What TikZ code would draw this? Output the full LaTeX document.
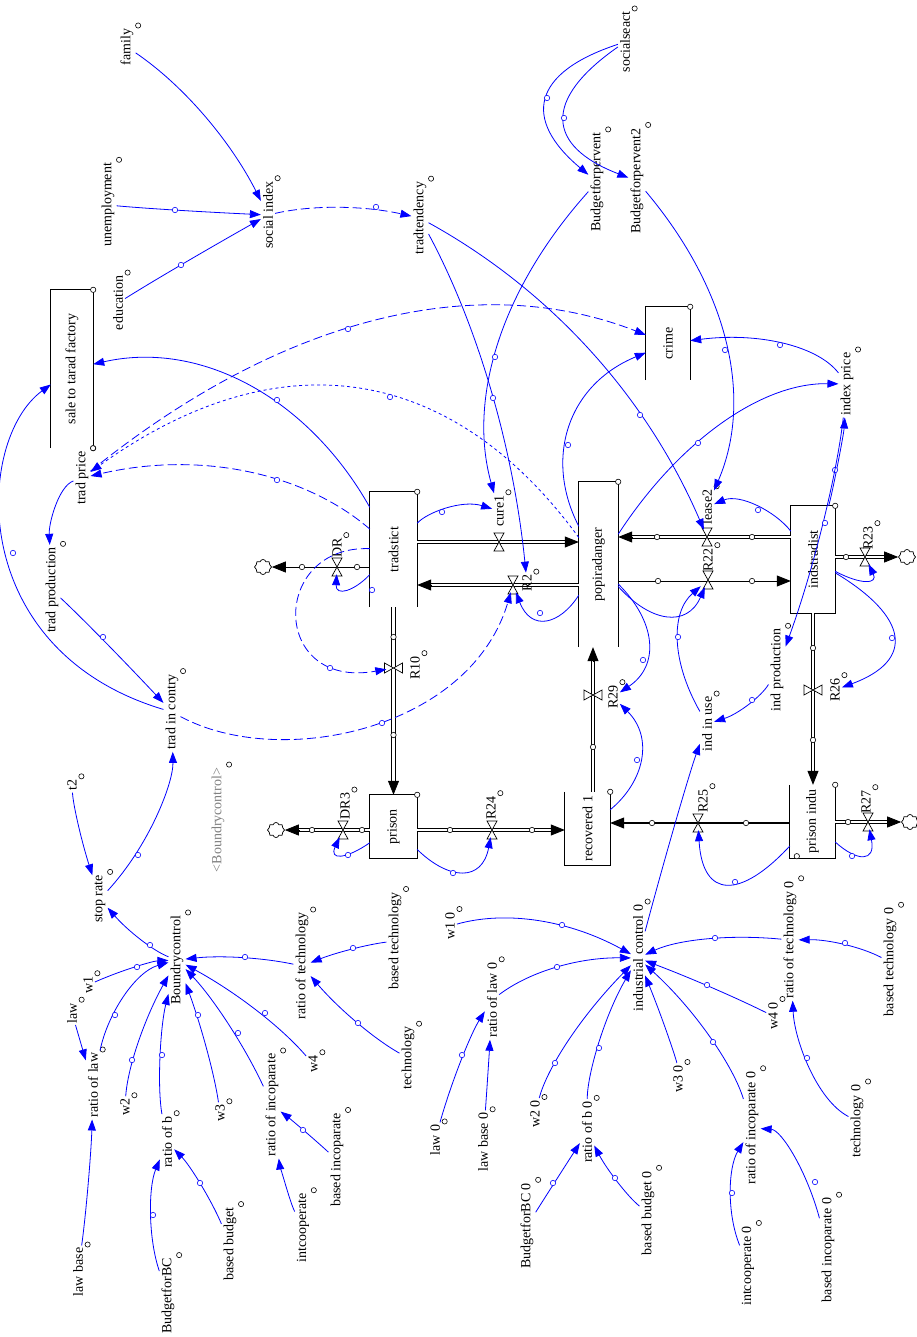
\documentclass[tikz,border=0pt]{standalone}
\usepackage{fontspec}
\setmainfont{Liberation Serif}
\usetikzlibrary{arrows.meta,calc,shapes.symbols}
\newcommand\fsz{\fontsize{14}{16}\selectfont}
\tikzset{
 var/.style={rotate=90, inner sep=2pt, font=\fsz, text=black},
 stockbox/.style={inner sep=0pt, font=\fsz},
 conn/.style={draw=blue, line width=0.8pt, -{Triangle[length=11pt,width=8pt]}},
 longdash/.style={dash pattern=on 9pt off 4pt},
 cb/.style={draw=blue, fill=white, line width=0.6pt},
 lc/.style={draw=black, fill=white, line width=0.6pt},
 pipe/.style={draw=black, double=white, double distance=2.6pt, line width=0.8pt},
 ptip/.style={draw=black, line width=0.8pt, -{Triangle[length=14pt,width=11pt]}},
 stk/.style={draw=black, line width=1pt},
 vnode/.style={inner sep=0pt, minimum size=14pt},
 valvest/.style={draw=black, fill=white, line width=0.7pt},
 cloudst/.style={cloud, cloud puffs=8, draw=black, line width=0.7pt, minimum width=17pt, minimum height=15pt, inner sep=0pt, aspect=1},
}
\newcommand\Vr[4][]{\node[var,#1] (#2) at (#3) {#4}; \draw[lc] (#2.south east) ++(2.5,-1) circle[radius=2.6pt];}
\newcommand\Cn[4][]{\draw[conn,#1] (#2) .. controls ($1.3333*(#3)-0.3333*(#4)$) and ($1.3333*(#3)-0.3333*(#2)$) .. (#4);}
\newcommand\Cnc[5][]{\draw[conn,#1] (#2) .. controls (#3) and (#4) .. (#5);}
\newcommand\Cc[1]{\draw[cb] (#1) circle[radius=2.7pt];}
\newcommand\Pc[1]{\draw[lc] (#1) circle[radius=2.7pt];}
\newcommand\Fl[2]{\draw[pipe] (#1) -- ($(#2)!13pt!(#1)$); \draw[ptip] ($(#2)!14pt!(#1)$) -- (#2);}
\newcommand\VHd[1]{\draw[valvest] ($(#1)+(-5,-9)$) -- ++(10,0) -- ++(-10,18) -- ++(10,0) -- cycle;}
\newcommand\VVd[1]{\draw[valvest] ($(#1)+(-9,-5)$) -- ++(0,10) -- ++(18,-10) -- ++(0,10) -- cycle;}
\begin{document}
\begin{tikzpicture}[x=1pt,y=-1pt]
\useasboundingbox (0,0) rectangle (917,1337);
\fill[white] (0,0) rectangle (917,1337);
% ---------- stocks ----------
\node[stockbox, minimum width=42pt, minimum height=158pt] (sale) at (72,369) {\rotatebox{90}{sale to tarad factory}};
\node[stockbox, minimum width=44pt, minimum height=73pt] (crime) at (668,343.5) {\rotatebox{90}{crime}};
\node[stockbox, minimum width=47pt, minimum height=115pt] (tradstict) at (393.5,549.5) {\rotatebox{90}{tradstict}};
\node[stockbox, minimum width=39pt, minimum height=165pt] (popiradanger) at (598.5,564.5) {\rotatebox{90}{popiradanger}};
\node[stockbox, minimum width=44pt, minimum height=107pt] (indstradist) at (813,559.5) {\rotatebox{90}{indstradist}};
\node[stockbox, minimum width=47pt, minimum height=63pt] (prison) at (393.5,826.5) {\rotatebox{90}{prison}};
\node[stockbox, minimum width=45pt, minimum height=73pt] (recovered) at (587.5,828.5) {\rotatebox{90}{recovered 1}};
\node[stockbox, minimum width=45pt, minimum height=73pt] (prisonindu) at (812.5,821.5) {\rotatebox{90}{prison indu}};
\foreach \s in {sale,crime,tradstict,popiradanger}{\draw[stk] (\s.south west) -- (\s.north west) -- (\s.north east) -- (\s.south east);}
\foreach \s in {indstradist,prison}{\draw[stk] (\s.south west) rectangle (\s.north east);}
\foreach \s in {recovered,prisonindu}{\draw[stk] (\s.north west) -- (\s.south west) -- (\s.south east) -- (\s.north east);}
\foreach \s in {sale,crime,tradstict,popiradanger,indstradist,prison,recovered,prisonindu}{\draw[lc] (\s.north east) circle[radius=2.7pt];}
\draw[lc] (sale.south east) circle[radius=2.7pt];
\draw[lc] ($(prisonindu.south west)+(7,-2)$) circle[radius=2.7pt];
% ---------- clouds ----------
\node[cloudst] (cl1) at (263,567) {};
\node[cloudst] (cl2) at (276,830) {};
\node[cloudst] (cl3) at (907,557) {};
\node[cloudst] (cl4) at (910,822) {};
% ---------- flows ----------
\coordinate (f1a) at (tradstict.east |- 0,542); \coordinate (f1b) at (popiradanger.west |- 0,542);
\coordinate (f2a) at (popiradanger.west |- 0,585); \coordinate (f2b) at (tradstict.east |- 0,585);
\coordinate (f3a) at (tradstict.west |- 0,567);
\coordinate (f5a) at (prison.west |- 0,830);
\coordinate (f6a) at (prison.east |- 0,830); \coordinate (f6b) at (recovered.west |- 0,830);
\coordinate (f7a) at (recovered.north -| 593,0); \coordinate (f7b) at (popiradanger.south -| 593,0);
\coordinate (f8a) at (popiradanger.east |- 0,581); \coordinate (f8b) at (indstradist.west |- 0,581);
\coordinate (f9a) at (indstradist.west |- 0,537); \coordinate (f9b) at (popiradanger.east |- 0,537);
\coordinate (f10a) at (indstradist.east |- 0,557);
\coordinate (f11a) at (indstradist.south); \coordinate (f11b) at (prisonindu.north -| indstradist.south);
\coordinate (f12a) at (prisonindu.west |- 0,823); \coordinate (f12b) at (recovered.east |- 0,823);
\coordinate (f13a) at (prisonindu.east |- 0,822);
\Fl{f1a}{f1b}
\Fl{f2a}{f2b}
\draw[ptip] (f3a) -- (cl1.east);
\Fl{tradstict.south}{prison.north}
\Fl{f5a}{cl2.east}
\Fl{f6a}{f6b}
\Fl{f7a}{f7b}
\draw[ptip] (f8a) -- (f8b);
\Fl{f9a}{f9b}
\Fl{f10a}{cl3.west}
\Fl{f11a}{f11b}
\draw[line width=2.2pt] (f12a) -- ($(f12b)!13pt!(f12a)$); \draw[ptip] ($(f12b)!14pt!(f12a)$) -- (f12b);
\Fl{f13a}{cl4.west}
% ---------- valves ----------
\node[vnode] (vcure1) at (499,542) {};
\node[vnode] (vR2) at (513,585) {};
\node[vnode] (vDR) at (337,567) {};
\node[vnode] (vR10) at (393.5,668) {};
\node[vnode] (vDR3) at (343,830) {};
\node[vnode] (vR24) at (492,830) {};
\node[vnode] (vR29) at (593,695) {};
\node[vnode] (vlease2) at (707,537) {};
\node[vnode] (vR22) at (708,580) {};
\node[vnode] (vR23) at (865,557) {};
\node[vnode] (vR26) at (813,690) {};
\node[vnode] (vR25) at (698,823) {};
\node[vnode] (vR27) at (868,822) {};
\VHd{vcure1} \VHd{vR2} \VHd{vDR} \VVd{vR10} \VHd{vDR3} \VHd{vR24} \VVd{vR29}
\VHd{vlease2} \VHd{vR22} \VHd{vR23} \VVd{vR26} \VHd{vR25} \VHd{vR27}
\Pc{302,567} \Pc{357,567} \Pc{393.5,637} \Pc{393.5,735} \Pc{312,830} \Pc{362,830}
\Pc{450,830} \Pc{532,830} \Pc{593,747} \Pc{658,581} \Pc{752,581} \Pc{657,537} \Pc{752,537}
\Pc{846,557} \Pc{813,648} \Pc{813,740} \Pc{652,823} \Pc{746,823} \Pc{848,822}
% ---------- variables ----------
\Vr{family}{127,47}{family}
\Vr{unemployment}{108,205}{unemployment}
\Vr{education}{118,303}{education}
\Vr{socialindex}{268,215}{social index}
\Vr{tradtendency}{420,218}{tradtendency}
\Vr{Budgetforpervent}{597,182}{Budgetforpervent}
\Vr{Budgetforpervent2}{637,181}{Budgetforpervent2}
\Vr{socialseact}{625,42}{socialseact}
\Vr{indexprice}{847,384}{index price}
\Vr{tradprice}{82,478}{trad price}
\Vr{tradproduction}{52,590}{trad production}
\Vr{tradincontry}{172,712}{trad in contry}
\Vr[text=gray]{bcgray}{218,820}{\textless Boundrycontrol\textgreater}
\Vr{t2}{72,785}{t2}
\Vr{stoprate}{100,899}{stop rate}
\Vr{Boundrycontrol}{177,960}{Boundrycontrol}
\Vr{law}{72,1013}{law}
\Vr{w1}{88,985}{w1}
\Vr{ratiooflaw}{93,1085}{ratio of law}
\Vr{w2}{125,1107}{w2}
\Vr{ratioofb}{167,1142}{ratio of b}
\Vr{w3}{220,1113}{w3}
\Vr{ratioofincoparate}{272,1105}{ratio of incoparate}
\Vr{w4}{313,1064}{w4}
\Vr{ratiooftechnology}{302,966}{ratio of technology}
\Vr{basedtechnology}{395,941}{based technology}
\Vr{technology}{408,1058}{technology}
\Vr{lawbase}{78,1272}{law base}
\Vr{BudgetforBC}{168,1296}{BudgetforBC}
\Vr{basedbudget}{230,1244}{based budget}
\Vr{intcooperate}{303,1228}{intcooperate}
\Vr{basedincoparate}{337,1160}{based incoparate}
\Vr{w10}{450,926}{w1 0}
\Vr{industrialcontrol0}{638,958}{industrial control 0}
\Vr{ratiooflaw0}{492,1000}{ratio of law 0}
\Vr{law0}{435,1140}{law 0}
\Vr{lawbase0}{483,1142}{law base 0}
\Vr{w20}{535,1114}{w2 0}
\Vr{ratioofb0}{587,1132}{ratio of b 0}
\Vr{w30}{678,1079}{w3 0}
\Vr{BudgetforBC0}{527,1226}{BudgetforBC 0}
\Vr{basedbudget0}{648,1213}{based budget 0}
\Vr{ratioofincoparate0}{752,1128}{ratio of incoparate 0}
\Vr{w40}{773,1016}{w4 0}
\Vr{ratiooftechnology0}{790,940}{ratio of technology 0}
\Vr{basedtechnology0}{890,962}{based technology 0}
\Vr{technology0}{857,1121}{technology 0}
\Vr{intcooperate0}{748,1266}{intcooperate 0}
\Vr{basedincoparate0}{828,1250}{based incoparate 0}
\Vr{indinuse}{707,724}{ind in use}
\Vr{indproduction}{777,670}{ind production}
% flow labels
\Vr{cure1}{499,511}{cure1}
\Vr{R2}{527,583}{R2}
\Vr{DR}{337,548}{DR}
\Vr{R10}{415,668}{R10}
\Vr{DR3}{345,806}{DR3}
\Vr{R24}{491,808}{R24}
\Vr{R29}{613,697}{R29}
\Vr{lease2}{707,507}{lease2}
\Vr{R22}{708,560}{R22}
\Vr{R23}{868,538}{R23}
\Vr{R26}{835,690}{R26}
\Vr{R25}{703,801}{R25}
\Vr{R27}{866,802}{R27}
% ---------- connectors ----------
\Cn{family}{205,118}{socialindex}
\Cn{unemployment}{175,210}{socialindex} \Cc{175,210}
\Cn{education}{181,265}{socialindex} \Cc{181,265}
\Cn[longdash]{socialindex}{340,208}{tradtendency} \Cc{376,207}
\Cn{tradtendency}{590,352}{vlease2} \Cc{640,415}
\Cn{tradtendency}{490,390}{R2} \Cc{493,398}
\Cn{Budgetforpervent}{500,345}{cure1} \Cc{495,357}
\Cn{Budgetforpervent2}{724,345}{lease2} \Cc{725,350}
\Cn{socialseact}{548,100}{Budgetforpervent} \Cc{547,98}
\Cn{socialseact}{566,120}{Budgetforpervent2} \Cc{564,118}
\Cn{indexprice}{780,345}{crime} \Cc{780,345}
\Cn{popiradanger}{720,428}{indexprice} \Cc{698,443}
\Cn{indstradist}{836,466}{indexprice} \Cc{835,470}
\Cn{indexprice}{822,523}{indproduction} \Cc{825,523}
\Cn[longdash]{tradprice}{380,322}{crime} \Cc{348,329}
\Cn[dashed]{popiradanger}{360,393}{tradprice} \Cc{390,397}
\Cn{tradstict}{250,392}{sale} \Cc{277,400}
\Cn[longdash]{tradstict}{250,475}{tradprice} \Cc{277,480}
\Cnc{tradincontry}{-35,650}{-25,440}{sale} \Cc{13,553}
\Cn{tradprice}{57,512}{tradproduction}
\Cn{tradproduction}{103,640}{tradincontry} \Cc{103,637}
\Cnc[longdash]{tradincontry}{280,770}{470,730}{vR2} \Cc{382,723}
\Cn{stoprate}{155,812}{tradincontry} \Cc{138,855}
\Cn{t2}{80,830}{stoprate}
\Cn{Boundrycontrol}{140,938}{stoprate} \Cc{150,945}
\Cn{w1}{137,967}{Boundrycontrol} \Cc{137,967}
\Cn{ratiooflaw}{125,1000}{Boundrycontrol} \Cc{115,1015}
\Cn{w2}{140,1040}{Boundrycontrol} \Cc{132,1060}
\Cn{ratioofb}{162,1055}{Boundrycontrol} \Cc{162,1055}
\Cn{w3}{205,1045}{Boundrycontrol} \Cc{198,1015}
\Cn{ratioofincoparate}{228,1025}{Boundrycontrol} \Cc{238,1033}
\Cn{w4}{255,1010}{Boundrycontrol} \Cc{265,1013}
\Cn{ratiooftechnology}{240,958}{Boundrycontrol} \Cc{245,957}
\Cn{law}{79,1037}{ratiooflaw}
\Cn{lawbase}{88,1180}{ratiooflaw}
\Cn{BudgetforBC}{153,1215}{ratioofb} \Cc{153,1215}
\Cn{basedbudget}{200,1185}{ratioofb} \Cc{200,1183}
\Cn{intcooperate}{285,1177}{ratioofincoparate}
\Cn{basedincoparate}{303,1130}{ratioofincoparate} \Cc{303,1130}
\Cn{basedtechnology}{350,950}{ratiooftechnology} \Cc{353,948}
\Cn{technology}{355,1020}{ratiooftechnology} \Cc{358,1023}
\Cn{law0}{462,1060}{ratiooflaw0} \Cc{462,1055}
\Cn{lawbase0}{488,1070}{ratiooflaw0}
\Cn{w10}{540,922}{industrialcontrol0} \Cc{562,925}
\Cn{ratiooflaw0}{557,968}{industrialcontrol0} \Cc{557,967}
\Cn{w20}{570,1040}{industrialcontrol0} \Cc{555,1063}
\Cn{ratioofb0}{600,1045}{industrialcontrol0} \Cc{599,1048}
\Cn{w30}{667,1035}{industrialcontrol0}
\Cn{ratioofincoparate0}{710,1040}{industrialcontrol0} \Cc{713,1042}
\Cn{w40}{710,987}{industrialcontrol0} \Cc{707,985}
\Cn{ratiooftechnology0}{705,940}{industrialcontrol0} \Cc{715,938}
\Cn{basedtechnology0}{843,945}{ratiooftechnology0} \Cc{845,943}
\Cn{technology0}{810,1060}{ratiooftechnology0} \Cc{807,1058}
\Cn{BudgetforBC0}{553,1185}{ratioofb0} \Cc{553,1183}
\Cn{basedbudget0}{617,1180}{ratioofb0} \Cc{615,1178}
\Cn{intcooperate0}{733,1192}{ratioofincoparate0} \Cc{732,1193}
\Cn{basedincoparate0}{793,1160}{ratioofincoparate0} \Cc{815,1182}
\Cn{industrialcontrol0}{677,818}{indinuse}
\Cn{indinuse}{680,640}{vR22} \Cc{678,637}
\Cn{popiradanger}{665,612}{vR22}
\Cn{popiradanger}{645,640}{R29} \Cc{643,660}
\Cn{recovered}{637,760}{R29} \Cc{637,760}
\Cn{indproduction}{748,703}{indinuse} \Cc{752,700}
\Cn{indstradist}{890,635}{R26} \Cc{892,638}
\Cn{indstradist}{862,578}{vR23}
\Cn{prisonindu}{730,880}{vR25} \Cc{735,882}
\Cn{prisonindu}{860,852}{vR27} \Cc{852,856}
\Cn{prison}{460,868}{vR24} \Cc{453,873}
\Cn{prison}{345,852}{vDR3} \Cc{348,855}
\Cn{tradstict}{350,585}{vDR} \Cc{372,590}
\Cnc[longdash]{tradstict}{270,545}{270,690}{vR10} \Cc{330,668}
\Cn{popiradanger}{548,615}{vR2} \Cc{540,613}
\Cn{tradstict}{445,512}{cure1} \Cc{442,512}
\Cn{indstradist}{758,510}{lease2} \Cc{758,510}
\Cn{popiradanger}{575,430}{crime} \Cc{568,445}
\end{tikzpicture}
\end{document}
